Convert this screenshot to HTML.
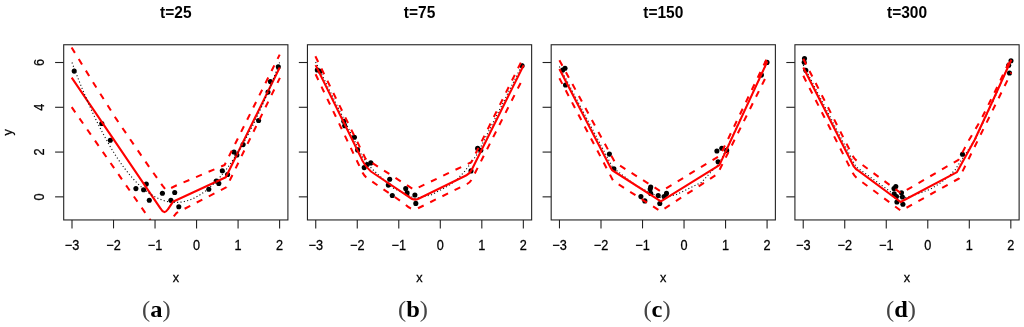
<!DOCTYPE html>
<html><head><meta charset="utf-8"><title>plot</title>
<style>
html,body{margin:0;padding:0;background:#fff;}
body{width:1024px;height:327px;overflow:hidden;}
svg{display:block;}
text{font-family:"Liberation Sans",sans-serif;fill:#000;filter:grayscale(1);}
.t{font-size:15.5px;font-weight:bold;}
.n{font-size:12.7px;stroke:#000;stroke-width:0.25px;}
.lb{font-family:"Liberation Serif",serif;font-size:24.5px;}
.box{fill:none;stroke:#222;stroke-width:1.1;}
.tk{stroke:#222;stroke-width:1.1;}
.sol{fill:none;stroke:#f00;stroke-width:2.1;stroke-linejoin:round;}
.das{fill:none;stroke:#f00;stroke-width:2.05;stroke-dasharray:6.3 7.3;stroke-linejoin:round;}
.dot{fill:none;stroke:#111;stroke-width:1.15;stroke-dasharray:1.1 2.3;}
circle{fill:#000;}
</style></head>
<body>
<svg width="1024" height="327" viewBox="0 0 1024 327">
<defs>
<clipPath id="c0"><rect x="63.7" y="44.75" width="224.2" height="175.2"/></clipPath>
<clipPath id="c1"><rect x="307.44" y="44.75" width="224.2" height="175.2"/></clipPath>
<clipPath id="c2"><rect x="551.18" y="44.75" width="224.2" height="175.2"/></clipPath>
<clipPath id="c3"><rect x="794.92" y="44.75" width="224.2" height="175.2"/></clipPath>
</defs>
<text transform="translate(175.8,17.8) scale(1,1.09)" text-anchor="middle" class="t">t=25</text>
<g clip-path="url(#c0)">
<circle cx="74.2" cy="71.1" r="2.55"/>
<circle cx="101.8" cy="123.5" r="2.55"/>
<circle cx="110.3" cy="140.2" r="2.55"/>
<circle cx="135.9" cy="188.6" r="2.55"/>
<circle cx="143.6" cy="189.8" r="2.55"/>
<circle cx="146.3" cy="184.1" r="2.55"/>
<circle cx="149.3" cy="200.2" r="2.55"/>
<circle cx="162.4" cy="193.2" r="2.55"/>
<circle cx="170.9" cy="200.3" r="2.55"/>
<circle cx="174.7" cy="192.5" r="2.55"/>
<circle cx="178.8" cy="206.8" r="2.55"/>
<circle cx="208.8" cy="189.2" r="2.55"/>
<circle cx="216.2" cy="181" r="2.55"/>
<circle cx="218.8" cy="183.4" r="2.55"/>
<circle cx="222.3" cy="170.8" r="2.55"/>
<circle cx="227.6" cy="174.5" r="2.55"/>
<circle cx="234" cy="152" r="2.55"/>
<circle cx="236.9" cy="155" r="2.55"/>
<circle cx="243.1" cy="144.6" r="2.55"/>
<circle cx="258.6" cy="120.5" r="2.55"/>
<circle cx="268" cy="92.1" r="2.55"/>
<circle cx="270.4" cy="81.6" r="2.55"/>
<circle cx="278.3" cy="66.8" r="2.55"/>
<path d="M71.7,77.6 L160.6,208.6 Q164.2,215.2 167.9,209.3 L172.9,201.8 L225.8,177.2 L279.7,67.5" class="sol"/>
<path d="M71.6,47.5 L94.6,84.8 L116.4,119.2 L146.9,163.7 L162.5,185.7 L166.3,190.3 L176.2,185.5 L224.6,165.0 L279.7,54.6" class="das"/>
<path d="M71.7,107.2 L160,234 L176.6,212.9 L226.5,187.2 L245.1,148.8 L279.9,77.9" class="das"/>
<path d="M72,62.51 L73.73,67.14 L75.46,71.68 L77.19,76.15 L78.92,80.55 L80.65,84.86 L82.38,89.1 L84.11,93.26 L85.84,97.34 L87.57,101.34 L89.3,105.27 L91.03,109.12 L92.76,112.89 L94.49,116.58 L96.22,120.2 L97.95,123.73 L99.68,127.19 L101.41,130.57 L103.14,133.88 L104.87,137.1 L106.6,140.25 L108.33,143.32 L110.06,146.32 L111.79,149.23 L113.52,152.07 L115.25,154.83 L116.98,157.51 L118.71,160.12 L120.44,162.64 L122.17,165.09 L123.9,167.46 L125.63,169.76 L127.36,171.97 L129.09,174.11 L130.82,176.17 L132.55,178.15 L134.28,180.06 L136.01,181.88 L137.74,183.63 L139.47,185.31 L141.2,186.9 L142.93,188.41 L144.66,189.85 L146.39,191.21 L148.12,192.5 L149.85,193.7 L151.58,194.83 L153.31,195.88 L155.04,196.85 L156.77,197.74 L158.5,198.56 L160.23,199.3 L161.96,199.96 L163.69,200.54 L165.42,201.05 L167.15,201.48 L168.88,201.83 L170.61,202.1 L172.34,202.29 L174.07,202.41 L175.8,202.45 L177.53,202.41 L179.26,202.29 L180.99,202.1 L182.72,201.83 L184.45,201.48 L186.18,201.05 L187.91,200.54 L189.64,199.96 L191.37,199.3 L193.1,198.56 L194.83,197.74 L196.56,196.85 L198.29,195.88 L200.02,194.83 L201.75,193.7 L203.48,192.5 L205.21,191.21 L206.94,189.85 L208.67,188.41 L210.4,186.9 L212.13,185.31 L213.86,183.63 L215.59,181.88 L217.32,180.06 L219.05,178.15 L220.78,176.17 L222.51,174.11 L224.24,171.97 L225.97,169.76 L227.7,167.46 L229.43,165.09 L231.16,162.64 L232.89,160.12 L234.62,157.51 L236.35,154.83 L238.08,152.07 L239.81,149.23 L241.54,146.32 L243.27,143.32 L245,140.25 L246.73,137.1 L248.46,133.88 L250.19,130.57 L251.92,127.19 L253.65,123.73 L255.38,120.2 L257.11,116.58 L258.84,112.89 L260.57,109.12 L262.3,105.27 L264.03,101.34 L265.76,97.34 L267.49,93.26 L269.22,89.1 L270.95,84.86 L272.68,80.55 L274.41,76.15 L276.14,71.68 L277.87,67.14 L279.6,62.51" class="dot"/>
</g>
<rect x="63.7" y="44.75" width="224.2" height="175.2" class="box"/>
<line x1="72" y1="219.95" x2="72" y2="228.4" class="tk"/>
<text transform="translate(72,249.5) scale(1,1.08)" text-anchor="middle" class="n">−3</text>
<line x1="113.52" y1="219.95" x2="113.52" y2="228.4" class="tk"/>
<text transform="translate(113.52,249.5) scale(1,1.08)" text-anchor="middle" class="n">−2</text>
<line x1="155.04" y1="219.95" x2="155.04" y2="228.4" class="tk"/>
<text transform="translate(155.04,249.5) scale(1,1.08)" text-anchor="middle" class="n">−1</text>
<line x1="196.56" y1="219.95" x2="196.56" y2="228.4" class="tk"/>
<text transform="translate(196.56,249.5) scale(1,1.08)" text-anchor="middle" class="n">0</text>
<line x1="238.08" y1="219.95" x2="238.08" y2="228.4" class="tk"/>
<text transform="translate(238.08,249.5) scale(1,1.08)" text-anchor="middle" class="n">1</text>
<line x1="279.6" y1="219.95" x2="279.6" y2="228.4" class="tk"/>
<text transform="translate(279.6,249.5) scale(1,1.08)" text-anchor="middle" class="n">2</text>
<line x1="55.1" y1="196.85" x2="63.7" y2="196.85" class="tk"/>
<text transform="translate(43.9,196.85) rotate(-90) scale(1,1.08)" text-anchor="middle" class="n">0</text>
<line x1="55.1" y1="152.07" x2="63.7" y2="152.07" class="tk"/>
<text transform="translate(43.9,152.07) rotate(-90) scale(1,1.08)" text-anchor="middle" class="n">2</text>
<line x1="55.1" y1="107.29" x2="63.7" y2="107.29" class="tk"/>
<text transform="translate(43.9,107.29) rotate(-90) scale(1,1.08)" text-anchor="middle" class="n">4</text>
<line x1="55.1" y1="62.51" x2="63.7" y2="62.51" class="tk"/>
<text transform="translate(43.9,62.51) rotate(-90) scale(1,1.08)" text-anchor="middle" class="n">6</text>
<text transform="translate(175.8,281.7) scale(1,1.05)" text-anchor="middle" class="n">x</text>
<text transform="translate(156.3,316.6) scale(1,0.93)" text-anchor="middle" class="lb"><tspan fill="#444">(</tspan><tspan font-weight="bold">a</tspan><tspan fill="#444">)</tspan></text>
<text transform="translate(419.54,17.8) scale(1,1.09)" text-anchor="middle" class="t">t=75</text>
<g clip-path="url(#c1)">
<circle cx="317.3" cy="70" r="2.55"/>
<circle cx="320.2" cy="71.2" r="2.55"/>
<circle cx="343.8" cy="121.2" r="2.55"/>
<circle cx="344.7" cy="125.8" r="2.55"/>
<circle cx="354.4" cy="137.3" r="2.55"/>
<circle cx="357.6" cy="149.9" r="2.55"/>
<circle cx="364.2" cy="167.6" r="2.55"/>
<circle cx="367.1" cy="164.6" r="2.55"/>
<circle cx="370.8" cy="162.9" r="2.55"/>
<circle cx="389.7" cy="179.3" r="2.55"/>
<circle cx="388.3" cy="185.1" r="2.55"/>
<circle cx="392.3" cy="195.5" r="2.55"/>
<circle cx="405.7" cy="188.5" r="2.55"/>
<circle cx="407.1" cy="192.9" r="2.55"/>
<circle cx="414.9" cy="195" r="2.55"/>
<circle cx="415.8" cy="203.4" r="2.55"/>
<circle cx="471" cy="170.9" r="2.55"/>
<circle cx="477.6" cy="148.4" r="2.55"/>
<circle cx="480.8" cy="150.2" r="2.55"/>
<circle cx="522.1" cy="65.7" r="2.55"/>
<path d="M315.6,62 L363,158 L372,168.9 L392.3,187.6 L415,198.5 L431,195 L448,186 L456.5,180 L464.6,171.5 L476.3,155.6 L480.5,147.5 L523.4,62.5" class="dot"/>
<path d="M315.6,65.1 L360.5,156.5 Q363.5,164.5 371,171.5 L408.5,196.6 Q414,201.5 419.5,198.3 L466.5,175.2 Q469.8,173.6 472,169.3 L523.6,65.3" class="sol"/>
<path d="M315.4,56.3 L365.5,158.7 L413.9,189.7 L468.8,163.4 L471.3,162.2 L523.9,56.5" class="das"/>
<path d="M315.6,74.3 L362.5,172.5 Q364.5,176.5 369,179.5 L405,204 Q412,211.5 418,208.3 L466,184.5 Q470,183 472,179 L523.4,77.5" class="das"/>
</g>
<rect x="307.44" y="44.75" width="224.2" height="175.2" class="box"/>
<line x1="315.74" y1="219.95" x2="315.74" y2="228.4" class="tk"/>
<text transform="translate(315.74,249.5) scale(1,1.08)" text-anchor="middle" class="n">−3</text>
<line x1="357.26" y1="219.95" x2="357.26" y2="228.4" class="tk"/>
<text transform="translate(357.26,249.5) scale(1,1.08)" text-anchor="middle" class="n">−2</text>
<line x1="398.78" y1="219.95" x2="398.78" y2="228.4" class="tk"/>
<text transform="translate(398.78,249.5) scale(1,1.08)" text-anchor="middle" class="n">−1</text>
<line x1="440.3" y1="219.95" x2="440.3" y2="228.4" class="tk"/>
<text transform="translate(440.3,249.5) scale(1,1.08)" text-anchor="middle" class="n">0</text>
<line x1="481.82" y1="219.95" x2="481.82" y2="228.4" class="tk"/>
<text transform="translate(481.82,249.5) scale(1,1.08)" text-anchor="middle" class="n">1</text>
<line x1="523.34" y1="219.95" x2="523.34" y2="228.4" class="tk"/>
<text transform="translate(523.34,249.5) scale(1,1.08)" text-anchor="middle" class="n">2</text>
<line x1="298.84" y1="196.85" x2="307.44" y2="196.85" class="tk"/>
<line x1="298.84" y1="152.07" x2="307.44" y2="152.07" class="tk"/>
<line x1="298.84" y1="107.29" x2="307.44" y2="107.29" class="tk"/>
<line x1="298.84" y1="62.51" x2="307.44" y2="62.51" class="tk"/>
<text transform="translate(419.54,281.7) scale(1,1.05)" text-anchor="middle" class="n">x</text>
<text transform="translate(413,316.6) scale(1,0.93)" text-anchor="middle" class="lb"><tspan fill="#444">(</tspan><tspan font-weight="bold">b</tspan><tspan fill="#444">)</tspan></text>
<text transform="translate(663.28,17.8) scale(1,1.09)" text-anchor="middle" class="t">t=150</text>
<g clip-path="url(#c2)">
<circle cx="562.7" cy="70" r="2.55"/>
<circle cx="565" cy="68.2" r="2.55"/>
<circle cx="565.5" cy="85" r="2.55"/>
<circle cx="609.4" cy="154.1" r="2.55"/>
<circle cx="613.9" cy="168.8" r="2.55"/>
<circle cx="640.9" cy="196.6" r="2.55"/>
<circle cx="644.8" cy="200.9" r="2.55"/>
<circle cx="650.7" cy="187" r="2.55"/>
<circle cx="650.2" cy="189" r="2.55"/>
<circle cx="650.7" cy="193.4" r="2.55"/>
<circle cx="658.2" cy="195.5" r="2.55"/>
<circle cx="659.8" cy="203.5" r="2.55"/>
<circle cx="664.1" cy="196.6" r="2.55"/>
<circle cx="666.5" cy="193.4" r="2.55"/>
<circle cx="716.9" cy="151" r="2.55"/>
<circle cx="721.8" cy="148.2" r="2.55"/>
<circle cx="726.7" cy="150.4" r="2.55"/>
<circle cx="718.1" cy="161.7" r="2.55"/>
<circle cx="761.5" cy="75.1" r="2.55"/>
<circle cx="767" cy="62.4" r="2.55"/>
<path d="M559.4,66.6 L612.6,167.4 L636.1,185.8 L661,198 L675.9,194.7 L701.4,182.5 L712.1,170.7 L719.6,163.2 L767.4,62" class="dot"/>
<path d="M559.4,69.1 L610.9,168.2 Q611.9,170.4 614.2,171.5 L660.9,201.4 L719.4,165.1 L767.4,61.4" class="sol"/>
<path d="M559.4,60.2 L615,162.5 L661,191.5 L720.1,155.5 L767.4,57.6" class="das"/>
<path d="M559.4,78.3 L613.3,181 L660.5,211.2 L717.5,174 L767.4,74" class="das"/>
</g>
<rect x="551.18" y="44.75" width="224.2" height="175.2" class="box"/>
<line x1="559.48" y1="219.95" x2="559.48" y2="228.4" class="tk"/>
<text transform="translate(559.48,249.5) scale(1,1.08)" text-anchor="middle" class="n">−3</text>
<line x1="601" y1="219.95" x2="601" y2="228.4" class="tk"/>
<text transform="translate(601,249.5) scale(1,1.08)" text-anchor="middle" class="n">−2</text>
<line x1="642.52" y1="219.95" x2="642.52" y2="228.4" class="tk"/>
<text transform="translate(642.52,249.5) scale(1,1.08)" text-anchor="middle" class="n">−1</text>
<line x1="684.04" y1="219.95" x2="684.04" y2="228.4" class="tk"/>
<text transform="translate(684.04,249.5) scale(1,1.08)" text-anchor="middle" class="n">0</text>
<line x1="725.56" y1="219.95" x2="725.56" y2="228.4" class="tk"/>
<text transform="translate(725.56,249.5) scale(1,1.08)" text-anchor="middle" class="n">1</text>
<line x1="767.08" y1="219.95" x2="767.08" y2="228.4" class="tk"/>
<text transform="translate(767.08,249.5) scale(1,1.08)" text-anchor="middle" class="n">2</text>
<line x1="542.58" y1="196.85" x2="551.18" y2="196.85" class="tk"/>
<line x1="542.58" y1="152.07" x2="551.18" y2="152.07" class="tk"/>
<line x1="542.58" y1="107.29" x2="551.18" y2="107.29" class="tk"/>
<line x1="542.58" y1="62.51" x2="551.18" y2="62.51" class="tk"/>
<text transform="translate(663.28,281.7) scale(1,1.05)" text-anchor="middle" class="n">x</text>
<text transform="translate(657,316.6) scale(1,0.93)" text-anchor="middle" class="lb"><tspan fill="#444">(</tspan><tspan font-weight="bold">c</tspan><tspan fill="#444">)</tspan></text>
<text transform="translate(907.02,17.8) scale(1,1.09)" text-anchor="middle" class="t">t=300</text>
<g clip-path="url(#c3)">
<circle cx="804.5" cy="58.6" r="2.55"/>
<circle cx="804.2" cy="62.2" r="2.55"/>
<circle cx="805.8" cy="70.2" r="2.55"/>
<circle cx="894" cy="188.5" r="2.55"/>
<circle cx="895.8" cy="186.6" r="2.55"/>
<circle cx="894.2" cy="193.8" r="2.55"/>
<circle cx="896.5" cy="196.5" r="2.55"/>
<circle cx="896.9" cy="202" r="2.55"/>
<circle cx="901.5" cy="192.8" r="2.55"/>
<circle cx="902.4" cy="197" r="2.55"/>
<circle cx="902.9" cy="204.3" r="2.55"/>
<circle cx="962.5" cy="154.3" r="2.55"/>
<circle cx="1008.7" cy="65.3" r="2.55"/>
<circle cx="1011" cy="60.7" r="2.55"/>
<circle cx="1009.5" cy="73" r="2.55"/>
<path d="M803.3,65 L854.2,163.6 Q856.5,167.5 859.5,169.2 L897,196.5 L906.1,197.5 L918.4,193.6 L930.6,189.1 L939.8,183.4 L949,176 L955.1,170 L958.5,164.5 L975.8,138.5 L994.3,98.5 L1011.3,59" class="dot"/>
<path d="M803.3,67.4 L853.4,165.8 Q855.7,169.3 859,171.2 L900.6,202 L957,172.1 L974.6,140 L993.1,100 L1011.3,59.8" class="sol"/>
<path d="M803.3,58.8 L852.5,155.5 Q854.5,159.5 858.5,162 L901,193.3 L958.5,159.8 L968.7,140.6 L981.1,119.5 L998.35,84.8 L1011.3,57.2" class="das"/>
<path d="M803.3,75.8 L852.5,172.5 Q854.5,176.3 858,179 L901,210.8 L959,178.5 L1011.3,72.5" class="das"/>
</g>
<rect x="794.92" y="44.75" width="224.2" height="175.2" class="box"/>
<line x1="803.22" y1="219.95" x2="803.22" y2="228.4" class="tk"/>
<text transform="translate(803.22,249.5) scale(1,1.08)" text-anchor="middle" class="n">−3</text>
<line x1="844.74" y1="219.95" x2="844.74" y2="228.4" class="tk"/>
<text transform="translate(844.74,249.5) scale(1,1.08)" text-anchor="middle" class="n">−2</text>
<line x1="886.26" y1="219.95" x2="886.26" y2="228.4" class="tk"/>
<text transform="translate(886.26,249.5) scale(1,1.08)" text-anchor="middle" class="n">−1</text>
<line x1="927.78" y1="219.95" x2="927.78" y2="228.4" class="tk"/>
<text transform="translate(927.78,249.5) scale(1,1.08)" text-anchor="middle" class="n">0</text>
<line x1="969.3" y1="219.95" x2="969.3" y2="228.4" class="tk"/>
<text transform="translate(969.3,249.5) scale(1,1.08)" text-anchor="middle" class="n">1</text>
<line x1="1010.82" y1="219.95" x2="1010.82" y2="228.4" class="tk"/>
<text transform="translate(1010.82,249.5) scale(1,1.08)" text-anchor="middle" class="n">2</text>
<line x1="786.32" y1="196.85" x2="794.92" y2="196.85" class="tk"/>
<line x1="786.32" y1="152.07" x2="794.92" y2="152.07" class="tk"/>
<line x1="786.32" y1="107.29" x2="794.92" y2="107.29" class="tk"/>
<line x1="786.32" y1="62.51" x2="794.92" y2="62.51" class="tk"/>
<text transform="translate(907.02,281.7) scale(1,1.05)" text-anchor="middle" class="n">x</text>
<text transform="translate(901,316.6) scale(1,0.93)" text-anchor="middle" class="lb"><tspan fill="#444">(</tspan><tspan font-weight="bold">d</tspan><tspan fill="#444">)</tspan></text>
<text transform="translate(11.6,132.4) rotate(-90) scale(1,1.05)" text-anchor="middle" class="n">y</text>
</svg>
</body></html>
